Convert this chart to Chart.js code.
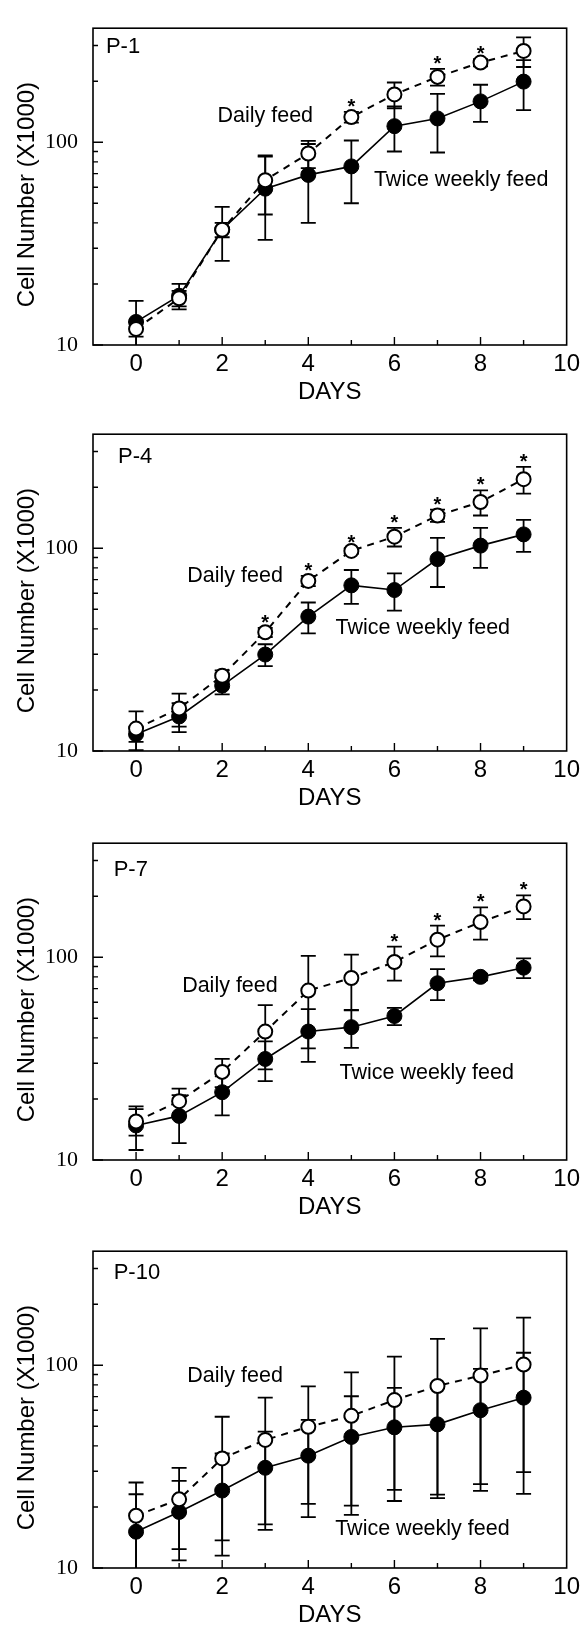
<!DOCTYPE html>
<html>
<head>
<meta charset="utf-8">
<script src="https://cdn.jsdelivr.net/npm/chart.js@4/dist/chart.umd.min.js"></script>
<style>
  html, body { margin: 0; padding: 0; background: #fff; }
  #page { position: relative; width: 585px; height: 1627px; overflow: hidden; }
  .panel { position: absolute; left: 0; width: 585px; height: 412px; }
</style>
</head>
<body>
<div id="page">
  <div class="panel" style="top:0px"><canvas id="c1" width="585" height="412"></canvas></div>
  <div class="panel" style="top:406px"><canvas id="c2" width="585" height="412"></canvas></div>
  <div class="panel" style="top:815px"><canvas id="c3" width="585" height="412"></canvas></div>
  <div class="panel" style="top:1223px"><canvas id="c4" width="585" height="412"></canvas></div>
</div>
<script>
// Days in culture and axis ticks
const days = [0, 1, 2, 3, 4, 5, 6, 7, 8, 9];
const dayTicks = [0, 2, 4, 6, 8, 10];
const cellTicks = [10, 100];
const minorCellTicks = [20, 30, 40, 50, 60, 70, 80, 90, 200, 300];

// Passage 1 (cell number x1000, mean and SD)
const p1Daily   = [12, 17, 37, 65, 88, 133, 172, 210, 247, 282];
const p1DailySD = [1, 1.5, 3, 21, 13.5, 8, 25, 20, 10, 47];
const p1Twice   = [13, 17.5, 37, 59, 69, 76, 120, 131, 159, 199];
const p1TwiceSD = [3.5, 2.5, 11, 26, 29, 26, 30, 42, 33, 55];
const p1Sig     = [5, 7, 8];

// Passage 4
const p4Daily   = [12.9, 16.2, 23.5, 38.5, 69, 97, 114, 145, 169, 219];
const p4DailySD = [2.8, 3, 1.5, 2, 4, 3, 12, 10, 24, 33];
const p4Twice   = [12.1, 14.8, 21, 29.9, 46, 65.6, 62.2, 88.4, 103, 117];
const p4TwiceSD = [1, 2.4, 2, 3.7, 8, 12.5, 13, 24, 23, 21];
const p4Sig     = [3, 4, 5, 6, 7, 8, 9];

// Passage 7
const p7Daily   = [15.5, 19.5, 27.2, 43, 68.5, 79, 94.7, 122, 149, 178];
const p7DailySD = [2.3, 3, 4.3, 15, 33, 24, 18, 21, 27, 24];
const p7Twice   = [14.8, 16.5, 21.6, 31.5, 43, 45.2, 51.3, 74.4, 80, 88.8];
const p7TwiceSD = [3.6, 4.4, 5, 7, 12.5, 9.5, 5, 13, 3, 10];
const p7Sig     = [6, 7, 8, 9];

// Passage 10
const p10Daily   = [18.1, 21.8, 34.7, 42.8, 49.7, 56.3, 67.3, 79, 88.9, 100.7];
const p10DailySD = [8.3, 9.4, 21, 26.4, 29, 36, 43, 56, 63, 71];
const p10Twice   = [15.1, 18.9, 24.1, 31.2, 35.8, 44.3, 49.4, 51.1, 60, 69.2];
const p10TwiceSD = [8, 8, 12.6, 15.8, 18, 26, 28, 29, 36, 46];
const p10Sig     = [];

const yTitle = 'Cell Number (X1000)';

const panels = [
  { id: 'c1', name: 'P-1', nameAt: [-0.7, 296], daily: p1Daily, dailySD: p1DailySD, twice: p1Twice, twiceSD: p1TwiceSD, sig: p1Sig,
    dailyNote: [3.0, 134], twiceNote: [7.55, 65] },
  { id: 'c2', name: 'P-4', nameAt: [-0.42, 283], daily: p4Daily, dailySD: p4DailySD, twice: p4Twice, twiceSD: p4TwiceSD, sig: p4Sig,
    dailyNote: [2.3, 73], twiceNote: [6.66, 40.6] },
  { id: 'c3', name: 'P-7', nameAt: [-0.52, 268], daily: p7Daily, dailySD: p7DailySD, twice: p7Twice, twiceSD: p7TwiceSD, sig: p7Sig,
    dailyNote: [2.18, 72], twiceNote: [6.75, 26.8] },
  { id: 'c4', name: 'P-10', nameAt: [-0.52, 285], daily: p10Daily, dailySD: p10DailySD, twice: p10Twice, twiceSD: p10TwiceSD, sig: p10Sig,
    dailyNote: [2.3, 88], twiceNote: [6.65, 15.5] }
];

const SANS = "'Liberation Sans', Arial, Helvetica, sans-serif";
const SERIF = "'Liberation Serif', 'Times New Roman', serif";

// Vertical mean ± SD bars with caps, drawn beneath the lines and markers
const errorBars = {
  id: 'errorBars',
  beforeDatasetsDraw(chart) {
    const { ctx, chartArea: a, scales: { x, y } } = chart;
    ctx.save();
    ctx.beginPath();
    ctx.rect(a.left, a.top, a.right - a.left, a.bottom - a.top);
    ctx.clip();
    ctx.strokeStyle = '#000';
    ctx.lineWidth = 1.8;
    chart.data.datasets.forEach(ds => {
      ds.data.forEach((pt, i) => {
        const sd = ds.sd[i];
        const px = x.getPixelForValue(pt.x);
        const hi = y.getPixelForValue(pt.y + sd);
        const loVal = pt.y - sd;
        const lo = loVal > 0 ? y.getPixelForValue(loVal) : a.bottom + 20;
        ctx.beginPath();
        ctx.moveTo(px, hi); ctx.lineTo(px, lo);
        ctx.moveTo(px - 7.5, hi); ctx.lineTo(px + 7.5, hi);
        ctx.moveTo(px - 7.5, lo); ctx.lineTo(px + 7.5, lo);
        ctx.stroke();
      });
    });
    ctx.restore();
  }
};

// Plot frame, inward tick marks, side title, labels and significance asterisks
const frameAndNotes = {
  id: 'frameAndNotes',
  afterDatasetsDraw(chart, args, opts) {
    const { ctx, chartArea: a, scales: { x, y } } = chart;
    const p = opts.panel;
    ctx.save();
    ctx.strokeStyle = '#000';
    ctx.lineWidth = 1.6;
    ctx.strokeRect(a.left, a.top, a.right - a.left, a.bottom - a.top);

    ctx.lineWidth = 1.4;
    ctx.beginPath();
    days.forEach(d => {
      const px = x.getPixelForValue(d);
      const len = d % 2 === 0 ? 8 : 5;
      ctx.moveTo(px, a.bottom); ctx.lineTo(px, a.bottom - len);
    });
    cellTicks.forEach(v => {
      const py = y.getPixelForValue(v);
      ctx.moveTo(a.left, py); ctx.lineTo(a.left + 10, py);
    });
    minorCellTicks.forEach(v => {
      const py = y.getPixelForValue(v);
      ctx.moveTo(a.left, py); ctx.lineTo(a.left + 5, py);
    });
    ctx.stroke();

    ctx.fillStyle = '#000';

    // rotated y-axis title
    ctx.save();
    ctx.translate(27, (a.top + a.bottom) / 2 + 8);
    ctx.rotate(-Math.PI / 2);
    ctx.font = '24px ' + SANS;
    ctx.textAlign = 'center';
    ctx.textBaseline = 'middle';
    ctx.fillText(yTitle, 0, 0);
    ctx.restore();

    ctx.textBaseline = 'middle';
    ctx.textAlign = 'left';
    ctx.font = '22px ' + SANS;
    ctx.fillText(p.name, x.getPixelForValue(p.nameAt[0]), y.getPixelForValue(p.nameAt[1]));
    ctx.textAlign = 'center';
    ctx.font = '21.5px ' + SANS;
    ctx.fillText('Daily feed', x.getPixelForValue(p.dailyNote[0]), y.getPixelForValue(p.dailyNote[1]));
    ctx.fillText('Twice weekly feed', x.getPixelForValue(p.twiceNote[0]), y.getPixelForValue(p.twiceNote[1]));

    ctx.font = 'bold 20px ' + SANS;
    ctx.textBaseline = 'alphabetic';
    p.sig.forEach(d => {
      const i = days.indexOf(d);
      const top = y.getPixelForValue(p.daily[i] + p.dailySD[i]);
      ctx.fillText('*', x.getPixelForValue(d), top + 1);
    });
    ctx.restore();
  }
};

function points(vals) {
  return days.map((d, i) => ({ x: d, y: vals[i] }));
}

panels.forEach(p => {
  new Chart(document.getElementById(p.id), {
    type: 'line',
    data: {
      datasets: [
        {
          label: 'Daily feed',
          data: points(p.daily),
          sd: p.dailySD,
          borderColor: '#000',
          borderWidth: 2,
          borderDash: [7, 6],
          pointRadius: 7,
          pointBorderWidth: 2,
          pointBorderColor: '#000',
          pointBackgroundColor: '#fff',
          tension: 0,
          fill: false
        },
        {
          label: 'Twice weekly feed',
          data: points(p.twice),
          sd: p.twiceSD,
          borderColor: '#000',
          borderWidth: 1.6,
          pointRadius: 7.5,
          pointBorderWidth: 1,
          pointBorderColor: '#000',
          pointBackgroundColor: '#000',
          tension: 0,
          fill: false
        }
      ]
    },
    options: {
      responsive: false,
      animation: false,
      devicePixelRatio: 1,
      layout: { padding: { top: 15, right: 16, left: 0, bottom: 0 } },
      plugins: {
        legend: { display: false },
        tooltip: { enabled: false },
        frameAndNotes: { panel: p }
      },
      scales: {
        x: {
          type: 'linear',
          min: -1,
          max: 10,
          afterBuildTicks: s => { s.ticks = dayTicks.map(v => ({ value: v })); },
          afterFit: s => { s.height = 67; },
          grid: { display: false, drawTicks: false },
          border: { display: false },
          ticks: { padding: 5, color: '#000', autoSkip: false, maxRotation: 0,
                   font: { family: SANS, size: 24 } },
          title: { display: true, text: 'DAYS', color: '#000',
                   font: { family: SANS, size: 24 }, padding: { top: 0, bottom: 5 } }
        },
        y: {
          type: 'logarithmic',
          min: 10,
          max: 365,
          afterBuildTicks: s => { s.ticks = cellTicks.map(v => ({ value: v })); },
          afterFit: s => { s.width = 93; },
          grid: { display: false, drawTicks: false },
          border: { display: false },
          ticks: { padding: 15, color: '#000', callback: v => String(v),
                   font: { family: SERIF, size: 22 } },
          title: { display: false }
        }
      }
    },
    plugins: [errorBars, frameAndNotes]
  });
});
</script>
</body>
</html>
